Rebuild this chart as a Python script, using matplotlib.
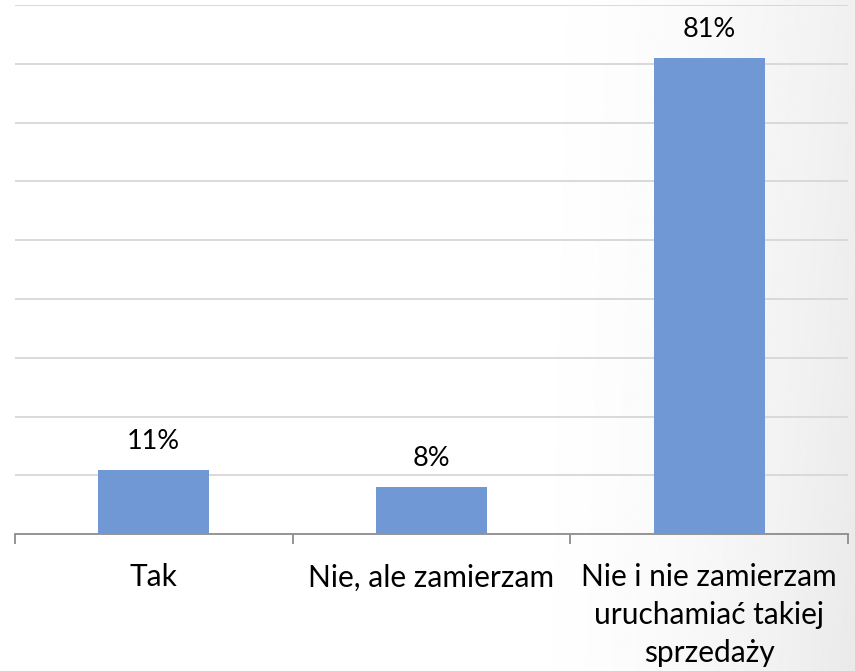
import numpy as np
import matplotlib
matplotlib.use("Agg")
import matplotlib.pyplot as plt

# survey answers and their shares (%)
categories = ["Tak", "Nie, ale zamierzam",
              "Nie i nie zamierzam\nuruchamiać takiej\nsprzedaży"]
values = [11, 8, 81]
value_labels = ["11%", "8%", "81%"]

plt.rcParams["font.family"] = ["Lato", "DejaVu Sans"]

fig = plt.figure(figsize=(8.55, 6.71), dpi=100)

# slide background: white fading to light grey at the right edge
bg = fig.add_axes([0, 0, 1, 1], zorder=-10)
xx, yy = np.meshgrid(np.linspace(0, 1, 400), np.linspace(0, 1, 300))
shade = np.clip((xx - 0.55) / 0.45, 0, 1) ** 2 * (0.06 + 0.025 * (1 - yy))
bg.imshow(1 - shade, cmap="gray", vmin=0, vmax=1, aspect="auto",
          extent=[0, 1, 0, 1], origin="lower")
bg.axis("off")

ax = fig.add_axes([15 / 855, 136.7 / 671, 833 / 855, 529.3 / 671])
ax.patch.set_alpha(0)

x = np.arange(len(categories))
ax.bar(x, values, width=0.4, color="#7098D4", zorder=3)

for xi, v, lab in zip(x, values, value_labels):
    ax.annotate(lab, (xi, v), xytext=(0, 20.5), textcoords="offset points",
                ha="center", va="center", fontsize=19.5, color="#000000")

ax.set_xlim(-0.5, len(categories) - 0.5)
ax.set_ylim(0, 90)
ax.set_yticks(np.arange(10, 91, 10))
ax.yaxis.grid(True, color="#D9D9D9", linewidth=1.4, zorder=0)
ax.tick_params(axis="y", left=False, labelleft=False)

for s in ["left", "right", "top"]:
    ax.spines[s].set_visible(False)
ax.spines["bottom"].set_color("#8C8C8C")
ax.spines["bottom"].set_linewidth(1.3)

# tick marks between categories, labels in the middle
ax.set_xticks(np.arange(-0.5, len(categories), 1.0))
ax.set_xticklabels([])
ax.tick_params(axis="x", which="major", length=7, width=1.3, color="#8C8C8C")
ax.set_xticks(x, categories, minor=True)
ax.tick_params(axis="x", which="minor", length=0, pad=21, labelsize=21.5)
for t in ax.get_xticklabels(minor=True):
    t.set_linespacing(1.42)

fig.savefig("out.png", dpi=100)
